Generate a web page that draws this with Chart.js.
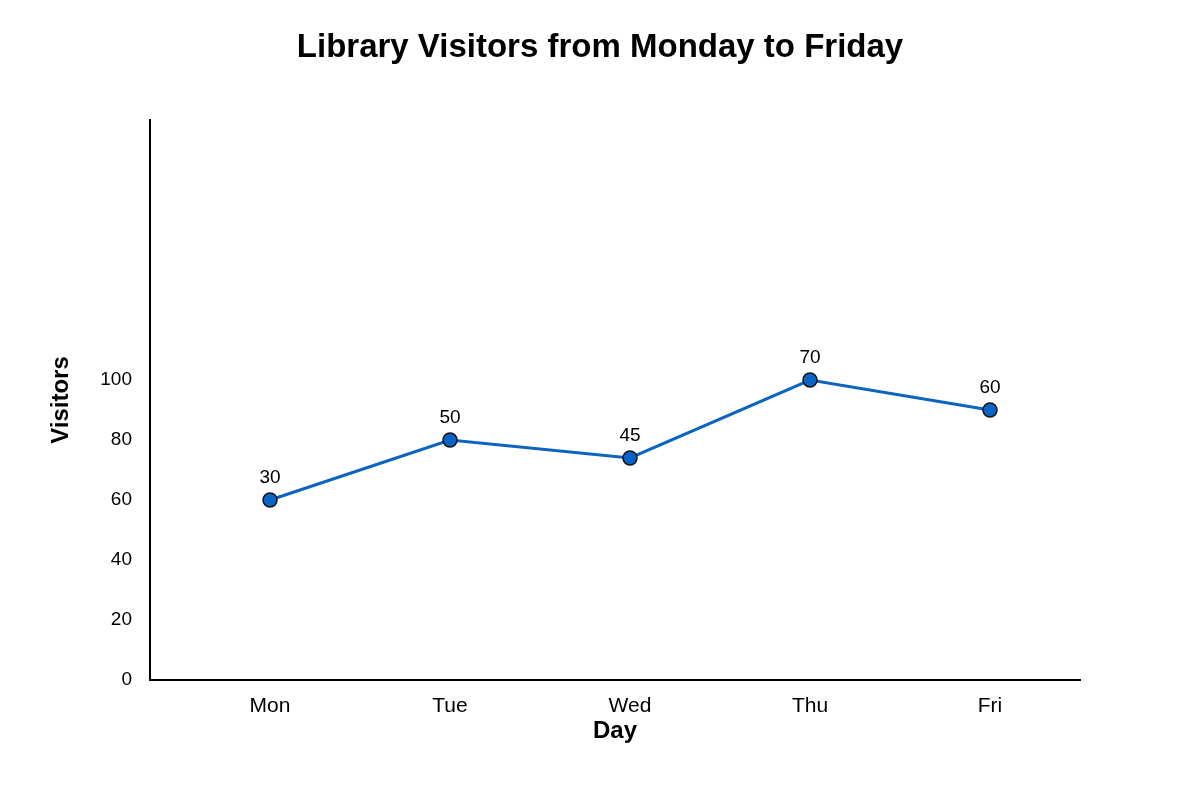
<!DOCTYPE html>
<html>
<head>
<meta charset="utf-8">
<script src="https://cdn.jsdelivr.net/npm/chart.js@4"></script>
<style>
  body { margin: 0; background: #fff; }
  #wrap { width: 1200px; height: 800px; }
</style>
</head>
<body>
<div id="wrap"><canvas id="c"></canvas></div>
<script>
const days = ['Mon', 'Tue', 'Wed', 'Thu', 'Fri'];
const plotted = [60, 80, 74, 100, 90];
const shownLabels = [30, 50, 45, 70, 60];
const yTicks = [0, 20, 40, 60, 80, 100];

const FONT = "'Liberation Sans', Arial, sans-serif";

const textPlugin = {
  id: 'texts',
  afterDraw(chart) {
    const ctx = chart.ctx;
    const meta = chart.getDatasetMeta(0);
    ctx.save();
    ctx.fillStyle = '#000';
    ctx.textAlign = 'center';
    ctx.textBaseline = 'middle';
    ctx.font = 'bold 33px ' + FONT;
    ctx.fillText('Library Visitors from Monday to Friday', 600, 48);
    ctx.font = '19px ' + FONT;
    meta.data.forEach((pt, i) => {
      ctx.fillText(String(shownLabels[i]), pt.x, pt.y - 22);
    });
    ctx.font = 'bold 24px ' + FONT;
    ctx.fillText('Day', 615, 731);
    ctx.translate(61, 400);
    ctx.rotate(-Math.PI / 2);
    ctx.fillText('Visitors', 0, 0);
    ctx.restore();
  }
};

new Chart(document.getElementById('c'), {
  type: 'line',
  data: {
    datasets: [{
      data: plotted.map((v, i) => ({ x: i, y: v })),
      borderColor: '#0a64c0',
      borderWidth: 3,
      pointBackgroundColor: '#0a64c8',
      pointBorderColor: '#111',
      pointBorderWidth: 1.5,
      pointRadius: 7,
      tension: 0
    }]
  },
  options: {
    responsive: true,
    maintainAspectRatio: false,
    animation: false,
    layout: { padding: { top: 120, right: 120, left: 0, bottom: 0 } },
    plugins: { legend: { display: false }, tooltip: { enabled: false } },
    scales: {
      x: {
        type: 'linear',
        min: -2 / 3,
        max: 4.5,
        afterFit: s => { s.height = 120; },
        afterBuildTicks: s => { s.ticks = days.map((d, i) => ({ value: i })); },
        grid: { display: false, drawTicks: true },
        border: { color: '#000', width: 2 },
        ticks: {
          color: '#000',
          font: { family: FONT, size: 21 },
          padding: 6,
          callback: v => days[v]
        }
      },
      y: {
        min: 0,
        max: 560 / 3,
        afterFit: s => { s.width = 150; },
        afterBuildTicks: s => { s.ticks = yTicks.map(v => ({ value: v })); },
        grid: { display: false },
        border: { color: '#000', width: 2 },
        ticks: {
          color: '#000',
          font: { family: FONT, size: 19 },
          padding: 10
        }
      }
    }
  },
  plugins: [textPlugin]
});
</script>
</body>
</html>
